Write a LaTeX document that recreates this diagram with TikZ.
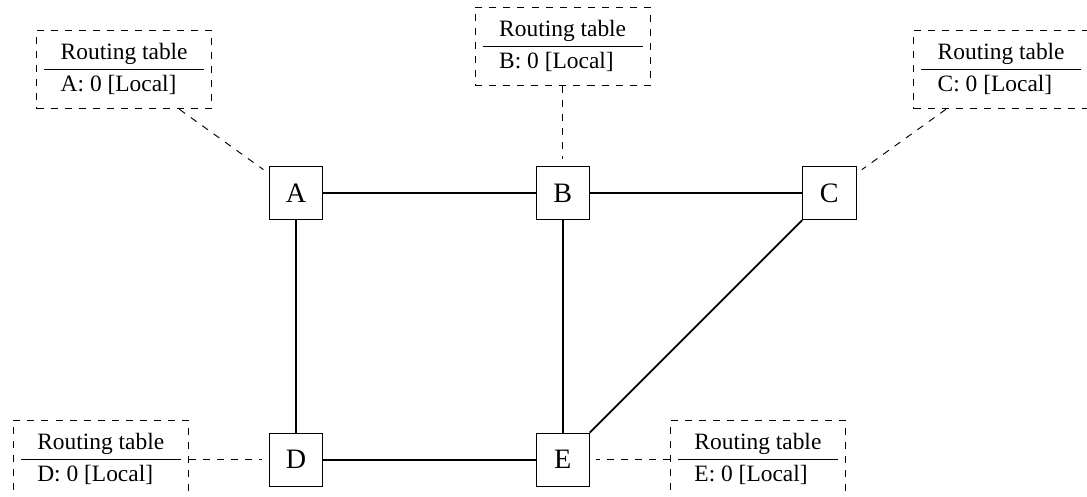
\documentclass[tikz,border=0pt]{standalone}
\usepackage{fontspec}
\setmainfont{Liberation Serif}
\usepackage{tikz}
\usetikzlibrary{positioning}
\setlength{\tabcolsep}{7pt}
\renewcommand{\arraystretch}{1.1}

\begin{document}
\begin{tikzpicture}[
    router/.style={draw, minimum size=0.8cm, font=\large},
    rtable/.style={draw, dashed},
    node distance=1.2cm
]
    \useasboundingbox (-4.44,-0.555) rectangle (11.865,6.895);

    % routers
    \node[router] (a) at (0, 4) {A};
    \node[router] (b) at (4, 4) {B};
    \node[router] (c) at (8, 4) {C};
    \node[router] (d) at (0, 0) {D};
    \node[router] (e) at (4, 0) {E};

    \draw[thick] (a) -- (b);
    \draw[thick] (b) -- (c);
    \draw[thick] (a) -- (d);
    \draw[thick] (b) -- (e);
    \draw[thick] (d) -- (e);
    \draw[thick] (e) -- (c);

    % routing tables
    \node[rtable, above left=of a] (ta) {\begin{tabular}{l}Routing table\\ \hline A: 0 [Local]\end{tabular}};
    \node[rtable, above=of b] (tb) {\begin{tabular}{l}Routing table\\ \hline B: 0 [Local]\end{tabular}};
    \node[rtable, above right=of c] (tc) {\begin{tabular}{l}Routing table\\ \hline C: 0 [Local]\end{tabular}};
    \node[rtable, left=of d] (td) {\begin{tabular}{l}Routing table\\ \hline D: 0 [Local]\end{tabular}};
    \node[rtable, right=of e] (te) {\begin{tabular}{l}Routing table\\ \hline E: 0 [Local]\end{tabular}};

    \draw[dashed, shorten >=1mm] (ta) -- (a);
    \draw[dashed, shorten >=1mm] (tb) -- (b);
    \draw[dashed, shorten >=1mm] (tc) -- (c);
    \draw[dashed, shorten >=1mm] (td) -- (d);
    \draw[dashed, shorten >=1mm] (te) -- (e);
\end{tikzpicture}
\end{document}
